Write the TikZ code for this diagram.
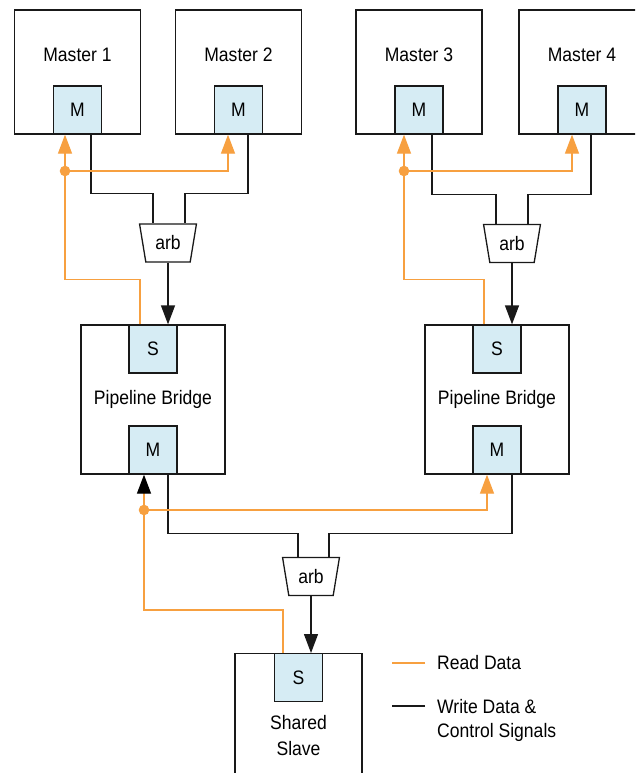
\documentclass[tikz,border=0pt]{standalone}
\usepackage{fontspec}
\setmainfont{Liberation Sans}[FakeStretch=0.9]
\usepackage{xcolor}
\usepackage{tikz}
\usetikzlibrary{arrows.meta, shapes.geometric, positioning}

\definecolor{readclr}{RGB}{247,160,64}
\definecolor{portclr}{RGB}{214,236,244}

\begin{document}
\begin{tikzpicture}[x=1pt, y=-1pt, >={Triangle[length=19pt,width=14pt]},
    every node/.append style={font=\fontsize{19.5}{24}\selectfont, inner sep=0pt},
    master/.style={draw=black!90, line width=1.3pt, fill=white, minimum width=126pt, minimum height=124pt},
    bridge/.style={draw=black!90, line width=1.3pt, fill=white, minimum width=144pt, minimum height=149pt},
    port/.style={draw=black!90, line width=1.3pt, fill=portclr, minimum width=48pt, minimum height=48pt},
    arb/.style={draw=black!90, line width=1.3pt, trapezium, trapezium angle=76, trapezium stretches=true,
        minimum width=57pt, minimum height=38pt, shape border rotate=180},
    wr/.style={draw=black!90, line width=1.3pt},
    rd/.style={draw=readclr, line width=1.3pt}]
    % Khung
    \useasboundingbox (0,0) rectangle (635,773);
    \fill[white] (0,0) rectangle (635,773);
    \clip (0,0) rectangle (635,773);

    % Các khối Master
    \foreach \i/\x in {1/77.5, 2/238.5, 3/419, 4/582} {
        \node[master] (mst\i) at (\x,72) {};
        \node at ([yshift=-45.5pt]mst\i.north) {Master \i};
        \node[port, anchor=south] (m\i) at (mst\i.south) {M};
    }

    % Pipeline Bridge
    \node[bridge] (brL) at (153,399.5) {Pipeline Bridge};
    \node[port, anchor=north] (sL) at (brL.north) {S};
    \node[port, anchor=south] (mL) at (brL.south) {M};
    \node[bridge] (brR) at (497,399.5) {Pipeline Bridge};
    \node[port, anchor=north] (sR) at (brR.north) {S};
    \node[port, anchor=south] (mR) at (brR.south) {M};

    % Shared Slave
    \node[master, minimum width=127pt, minimum height=200pt, anchor=north] (slv) at (298.5,653) {};
    \node[port, anchor=north] (sS) at (slv.north) {S};
    \node[align=center, anchor=north, font=\fontsize{19.5}{26}\selectfont] (slvTxt) at (298.5,715.5) {Shared\\Slave};

    % Bộ phân xử
    \node[arb] (arbL) at (168,243) {arb};
    \node[arb] (arbR) at (512,243.5) {arb};
    \node[arb] (arbD) at (311,576.5) {arb};

    % Nhánh trái phía trên
    \draw[wr] ([xshift=13.5pt]m1.south) -- ++(0,59) -| ([xshift=-15pt]arbL.north);
    \draw[wr] ([xshift=9.5pt]m2.south) -- ++(0,59) -| ([xshift=17pt]arbL.north);
    \draw[wr, ->] (arbL.south) -- (arbL.south |- sL.north);
    \coordinate (jL) at (65,171);
    \draw[rd, ->] ([xshift=-13pt]sL.north) -- ++(0,-45) -| ([xshift=-12.5pt]m1.south);
    \draw[rd, ->] (jL) -| ([xshift=-10.5pt]m2.south);
    \fill[readclr] (jL) circle (5.3pt);

    % Nhánh phải phía trên
    \draw[wr] ([xshift=13pt]m3.south) -- ++(0,60) -| ([xshift=-16pt]arbR.north);
    \draw[wr] ([xshift=9pt]m4.south) -- ++(0,60) -| ([xshift=16pt]arbR.north);
    \draw[wr, ->] (arbR.south) -- (arbR.south |- sR.north);
    \coordinate (jR) at (404,171);
    \draw[rd, ->] ([xshift=-13pt]sR.north) -- ++(0,-45) -| ([xshift=-15pt]m3.south);
    \draw[rd, ->] (jR) -| ([xshift=-10pt]m4.south);
    \fill[readclr] (jR) circle (5.3pt);

    % Nhánh dưới
    \draw[wr] ([xshift=15pt]mL.south) -- ++(0,59) -| ([xshift=-13pt]arbD.north);
    \draw[wr] ([xshift=15pt]mR.south) -- ++(0,59) -| ([xshift=18pt]arbD.north);
    \draw[wr, ->] (arbD.south) -- (arbD.south |- sS.north);
    \coordinate (jD) at (144,510);
    \draw[rd] ([xshift=-15.5pt]sS.north) -- ++(0,-43) -| (jD);
    \draw[rd, -{Triangle[length=19pt,width=14pt,color=black]}] (jD) -- ([xshift=-9pt]mL.south);
    \draw[rd, ->] (jD) -| ([xshift=-10pt]mR.south);
    \fill[readclr] (jD) circle (5.3pt);

    % Chú thích
    \node[anchor=west] (lgRd) at (437,663) {Read Data};
    \node[anchor=north west, align=left] (lgWr) at (437,699.5) {Write Data \&\\Control Signals};
    \draw[rd] ([xshift=-12pt]lgRd.west) -- ++(-33,0);
    \draw[wr] ([xshift=-12pt,yshift=-6.5pt]lgWr.north west) -- ++(-33,0);
\end{tikzpicture}
\end{document}
